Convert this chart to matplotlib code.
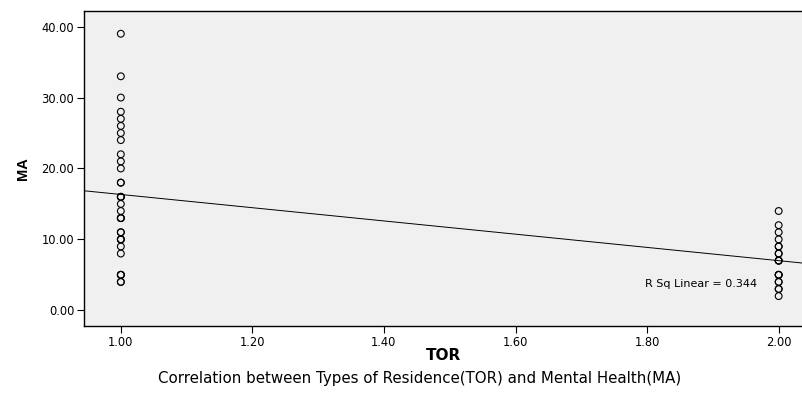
import numpy as np
import matplotlib
matplotlib.use("Agg")
import matplotlib.pyplot as plt

plt.rcParams['font.family'] = ['DejaVu Sans']

# TOR = 1 (repeated values drawn over each other, as in the original)
ma_tor1 = [39, 33, 30, 28, 27, 26, 25, 24, 22, 21, 20, 18, 18,
           16, 16, 16, 15, 14, 13, 13, 13, 11, 11, 10, 10, 10, 9, 8, 5, 5, 5, 4, 4]
# TOR = 2
ma_tor2 = [14, 12, 11, 10, 9, 9, 8, 8, 7, 7, 7, 5, 5, 5, 4, 4, 3, 3, 2]

tor = np.array([1.0] * len(ma_tor1) + [2.0] * len(ma_tor2))
ma = np.array(ma_tor1 + ma_tor2, dtype=float)

x_ticks = [1.0, 1.2, 1.4, 1.6, 1.8, 2.0]
y_ticks = [0, 10, 20, 30, 40]
r_sq_label = "R Sq Linear = 0.344"

fig = plt.figure(figsize=(8.03, 3.95), dpi=100)
ax = fig.add_axes([0.1046, 0.175, 0.8954, 0.797])
ax.set_facecolor('#f0f0f0')

ax.scatter(tor, ma, s=24, facecolors='none', edgecolors='black', linewidths=0.8, zorder=3)

# linear fit line across the whole plot
slope, intercept = np.polyfit(tor, ma, 1)
xlim = (0.944, 2.037)
xs = np.array(xlim)
ax.plot(xs, intercept + slope * xs, color='black', lw=0.7, zorder=2)

ax.set_xlim(*xlim)
ax.set_ylim(-2.2, 42.2)
ax.set_xticks(x_ticks)
ax.set_xticklabels(['%.2f' % v for v in x_ticks])
ax.set_yticks(y_ticks)
ax.set_yticklabels(['%.2f' % v for v in y_ticks])
ax.tick_params(labelsize=8.3, length=5, width=0.8, direction='out', color='black', pad=2)

for s in ax.spines.values():
    s.set_linewidth(1.0)
    s.set_color('black')

ax.set_xlabel('TOR', fontsize=11, fontweight='bold', labelpad=-0.5)
ax.set_ylabel('MA', fontsize=10.5, fontweight='bold', labelpad=8,
              family=['Liberation Sans Narrow', 'Liberation Sans', 'DejaVu Sans'])

ax.text(1.967, 3.7, r_sq_label, fontsize=8, ha='right', va='center')

fig.text(0.522, 0.043, 'Correlation between Types of Residence(TOR) and Mental Health(MA)',
         fontsize=10.8, ha='center', va='center')

fig.savefig('out.png', dpi=100)
